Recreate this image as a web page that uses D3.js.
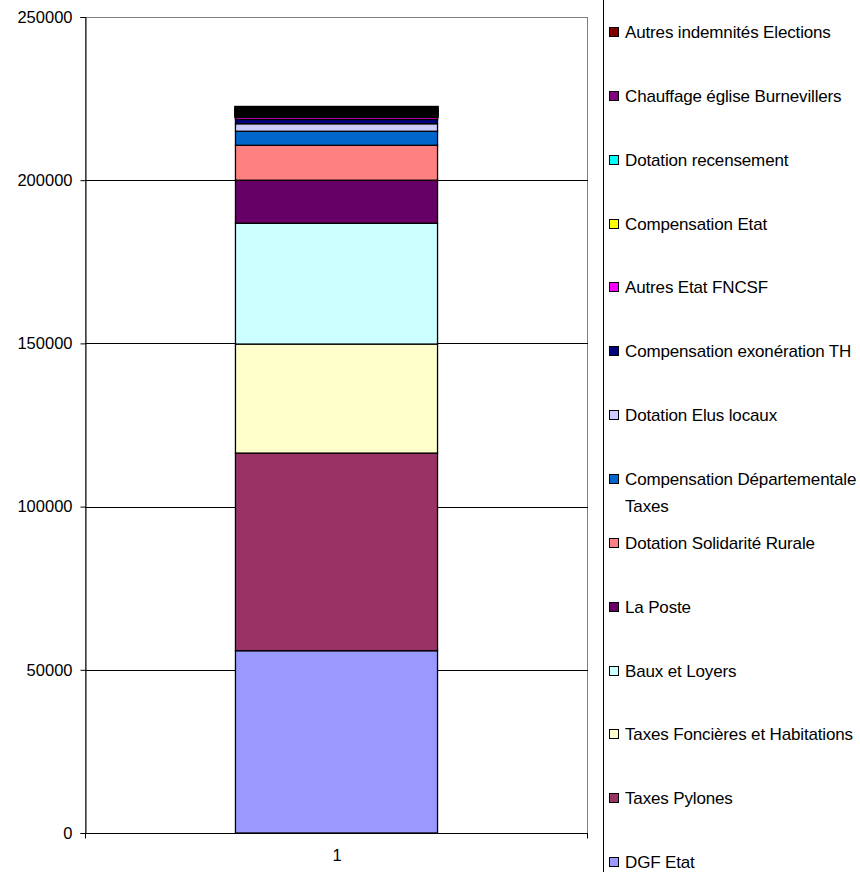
<!DOCTYPE html>
<html>
<head>
<meta charset="utf-8">
<script src="https://cdn.jsdelivr.net/npm/d3@7"></script>
<style>
html,body{margin:0;padding:0;background:#fff;}
svg{display:block;font-family:"Liberation Sans",Arial,sans-serif;}
</style>
</head>
<body>
<svg id="chart" width="860" height="872"></svg>
<script>
// Data (bottom to top of stack)
const categories = ["1"];
const seriesNames = [
  "DGF Etat",
  "Taxes Pylones",
  "Taxes Foncières et Habitations",
  "Baux et Loyers",
  "La Poste",
  "Dotation Solidarité Rurale",
  "Compensation Départementale Taxes",
  "Dotation Elus locaux",
  "Compensation exonération TH",
  "Autres Etat FNCSF",
  "Compensation Etat",
  "Dotation recensement",
  "Chauffage église Burnevillers",
  "Autres indemnités Elections"
];
const seriesValues = [55850, 60550, 33400, 37000, 13200, 10700, 4300, 2300, 1300, 800, 750, 750, 750, 750];
const seriesColors = ["#9999FF","#993366","#FFFFCC","#CCFFFF","#660066","#FF8080","#0066CC","#CCCCFF","#000080","#FF00FF","#FFFF00","#00FFFF","#800080","#800000"];
const yTicks = [0, 50000, 100000, 150000, 200000, 250000];

const FONT = "'Liberation Sans', Arial, sans-serif";
const svg = d3.select("#chart");
const plot = {left: 85, right: 587, top: 17, bottom: 833};

const x = d3.scaleBand().domain(categories).range([plot.left, plot.right]).paddingInner(0.426).paddingOuter(0.426);
const y = d3.scaleLinear().domain([0, 250000]).range([plot.bottom, plot.top]);

// plot border (gray)
svg.append("rect")
  .attr("x", plot.left + 0.5).attr("y", plot.top + 0.5)
  .attr("width", plot.right - plot.left).attr("height", plot.bottom - plot.top)
  .attr("fill", "none").attr("stroke", "#808080").attr("stroke-width", 1);

// gridlines
svg.append("g").selectAll("line").data(yTicks.filter(d => d > 0 && d < 250000)).join("line")
  .attr("x1", plot.left).attr("x2", plot.right + 1)
  .attr("y1", d => Math.round(y(d)) + 0.5).attr("y2", d => Math.round(y(d)) + 0.5)
  .attr("stroke", "#000").attr("stroke-width", 1);

// stack
const row = {};
seriesNames.forEach((n, i) => row[n] = seriesValues[i]);
const stack = d3.stack().keys(seriesNames)([row]);

const bars = svg.append("g");
stack.forEach((layer, i) => {
  layer.forEach(d => {
    const h = y(d[0]) - y(d[1]);
    bars.append("rect")
      .attr("x", x(categories[0]) + 0.5)
      .attr("width", x.bandwidth())
      .attr("y", y(d[1]))
      .attr("height", h)
      .attr("fill", seriesColors[i])
      .attr("stroke", "#000").attr("stroke-width", h < 2.55 ? 2.6 : 1.3);
  });
});

// y axis
const yAxis = svg.append("g").attr("transform", `translate(${plot.left + 0.5},0)`)
  .call(d3.axisLeft(y).tickValues(yTicks).tickSize(5).tickPadding(8).tickFormat(d3.format("d")));
yAxis.attr("font-family", null).attr("font-size", null);
yAxis.select(".domain").attr("stroke", "#000");
yAxis.selectAll(".tick line").attr("stroke", "#000");
yAxis.selectAll(".tick text").attr("font-size", 16.5).attr("fill", "#000").style("font-family", FONT);

// x axis
const xAxisG = svg.append("g").attr("transform", `translate(0,${plot.bottom + 0.5})`);
xAxisG.append("line").attr("x1", plot.left).attr("x2", plot.right + 1).attr("stroke", "#000");
xAxisG.selectAll(".edge").data([plot.left + 0.5, plot.right + 0.5]).join("line")
  .attr("x1", d => d).attr("x2", d => d).attr("y1", 0).attr("y2", 5).attr("stroke", "#000");
xAxisG.selectAll("text").data(categories).join("text")
  .attr("x", d => x(d) + x.bandwidth() / 2 + 1).attr("y", 27)
  .attr("text-anchor", "middle").attr("font-size", 16.5).style("font-family", FONT).text(d => d);

// legend
svg.append("line").attr("x1", 603.5).attr("x2", 603.5).attr("y1", 0).attr("y2", 872).attr("stroke", "#000");
const legendItems = seriesNames.map((n, i) => ({name: n, color: seriesColors[i]})).reverse();
const legendLines = {"Compensation Départementale Taxes": ["Compensation Départementale", "Taxes"]};
const lg = svg.append("g");
legendItems.forEach((d, i) => {
  const cy = 32 + i * 63.85;
  lg.append("rect").attr("x", 609.5).attr("y", Math.round(cy - 5) + 0.5).attr("width", 9).attr("height", 9)
    .attr("fill", d.color).attr("stroke", "#000").attr("stroke-width", 1);
  const lines = legendLines[d.name] || [d.name];
  lines.forEach((t, j) => {
    lg.append("text").attr("x", 625).attr("y", cy + 6 + j * 27)
      .attr("font-size", 17).attr("letter-spacing", -0.15).style("font-family", FONT).text(t);
  });
});
</script>
</body>
</html>
